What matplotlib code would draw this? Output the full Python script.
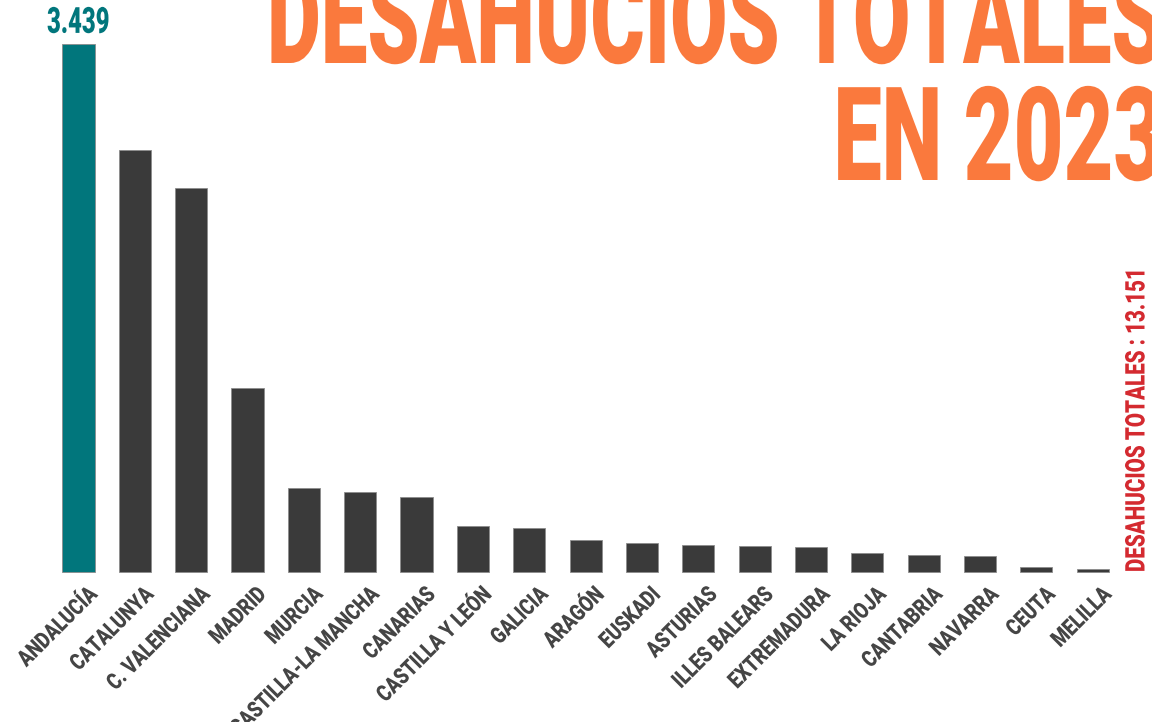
import numpy as np
import matplotlib
matplotlib.use("Agg")
import matplotlib.pyplot as plt
from matplotlib import patheffects
from matplotlib.transforms import Affine2D, ScaledTranslation, blended_transform_factory

# Desahucios por comunidad autónoma, 2023
regions = ["ANDALUCÍA", "CATALUNYA", "C. VALENCIANA", "MADRID", "MURCIA",
           "CASTILLA-LA MANCHA", "CANARIAS", "CASTILLA Y LEÓN", "GALICIA",
           "ARAGÓN", "EUSKADI", "ASTURIAS", "ILLES BALEARS", "EXTREMADURA",
           "LA RIOJA", "CANTABRIA", "NAVARRA", "CEUTA", "MELILLA"]
evictions = [3439, 2749, 2499, 1196, 549, 523, 488, 302, 285, 210, 187,
             178, 169, 161, 122, 113, 102, 35, 20]
top_label = "3.439"
total_text = "DESAHUCIOS TOTALES : 13.151"
title_lines = ["DESAHUCIOS TOTALES", "EN 2023"]

TEAL = "#01767C"
DARK = "#3A3A3A"
ORANGE = "#FA793D"
RED = "#D42A30"
LABEL_GREY = "#454545"
FONT = "Roboto"
WEIGHT = 900


class Condense(patheffects.AbstractPathEffect):
    """Narrow the glyph outlines horizontally around a pivot on the baseline."""

    def __init__(self, sx, pivot="left"):
        super().__init__()
        self.sx = sx
        self.pivot = pivot

    def draw_path(self, renderer, gc, tpath, affine, rgbFace=None):
        xs = tpath.vertices[:, 0]
        if len(xs) == 0:
            return
        if self.pivot == "right":
            px = xs.max()
        elif self.pivot == "center":
            px = 0.5 * (xs.min() + xs.max())
        else:
            px = 0.0
        t = Affine2D().translate(-px, 0).scale(self.sx, 1.0).translate(px, 0) + affine
        renderer.draw_path(gc, tpath, t, rgbFace)


W, H = 1152, 722
fig = plt.figure(figsize=(W / 100, H / 100), dpi=100)
fig.patch.set_facecolor("white")

# plot area in pixel terms: baseline at y=572, bar pitch ~56.3 px
left_px, right_px = 50.3, 1120.9
base_px, top_px = 572, 44
ax = fig.add_axes([left_px / W, (H - base_px) / H,
                   (right_px - left_px) / W, (base_px - top_px) / H])
ax.set_xlim(-0.5, len(regions) - 0.5)
ax.set_ylim(0, max(evictions))
ax.axis("off")

x = np.arange(len(regions))
colors = [TEAL] + [DARK] * (len(regions) - 1)
ax.bar(x, evictions, width=0.57, color=colors, edgecolor="#8c8c8c",
       linewidth=0.6, clip_on=False)

# value label over the leading bar
ax.annotate(top_label, xy=(0, evictions[0]), xytext=(0, 8),
            textcoords="offset points", ha="center", va="baseline",
            fontsize=26, fontweight=WEIGHT, family=FONT, color=TEAL,
            path_effects=[Condense(0.66, "center")], annotation_clip=False)

# rotated category labels
lab_tr = blended_transform_factory(ax.transData, ax.transAxes) + \
    ScaledTranslation(0.07, -0.11, fig.dpi_scale_trans)
for xi, name in zip(x, regions):
    ax.text(xi, 0, name, transform=lab_tr, rotation=45,
            rotation_mode="anchor", ha="right", va="top",
            fontsize=16.5, fontweight=WEIGHT, family=FONT, color=LABEL_GREY,
            path_effects=[Condense(0.80, "right")], clip_on=False)

# big title, right aligned and running off the edge
for line, base, sx in zip(title_lines, (63, 180), (0.638, 0.66)):
    fig.text(1165 / W, (H - base) / H, line, ha="right", va="baseline",
             fontsize=94, fontweight=WEIGHT, family=FONT, color=ORANGE,
             path_effects=[Condense(sx, "right")])

# vertical total on the right
fig.text(1137 / W, (H - 572) / H, total_text, rotation=90,
         rotation_mode="anchor", ha="left", va="center",
         fontsize=19.5, fontweight=WEIGHT, family=FONT, color=RED,
         path_effects=[Condense(0.76, "left")])

fig.savefig("out.png", dpi=100, facecolor="white")
